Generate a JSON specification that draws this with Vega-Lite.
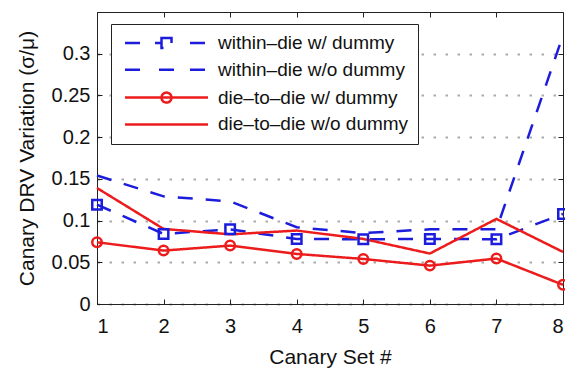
{
  "$schema": "https://vega.github.io/schema/vega-lite/v6.json",
  "width": 466,
  "height": 292,
  "autosize": {"type": "none"},
  "padding": {"left": 97, "top": 12, "right": 2, "bottom": 66},
  "background": "white",
  "data": {
    "values": [
      {"set": 1, "series": "within–die w/ dummy", "value": 0.119},
      {"set": 2, "series": "within–die w/ dummy", "value": 0.084},
      {"set": 3, "series": "within–die w/ dummy", "value": 0.0895},
      {"set": 4, "series": "within–die w/ dummy", "value": 0.078},
      {"set": 5, "series": "within–die w/ dummy", "value": 0.0776},
      {"set": 6, "series": "within–die w/ dummy", "value": 0.078},
      {"set": 7, "series": "within–die w/ dummy", "value": 0.0776},
      {"set": 8, "series": "within–die w/ dummy", "value": 0.108},
      {"set": 1, "series": "within–die w/o dummy", "value": 0.154},
      {"set": 2, "series": "within–die w/o dummy", "value": 0.129},
      {"set": 3, "series": "within–die w/o dummy", "value": 0.123},
      {"set": 4, "series": "within–die w/o dummy", "value": 0.092},
      {"set": 5, "series": "within–die w/o dummy", "value": 0.085},
      {"set": 6, "series": "within–die w/o dummy", "value": 0.0895},
      {"set": 7, "series": "within–die w/o dummy", "value": 0.0895},
      {"set": 8, "series": "within–die w/o dummy", "value": 0.322},
      {"set": 1, "series": "die–to–die w/ dummy", "value": 0.074},
      {"set": 2, "series": "die–to–die w/ dummy", "value": 0.064},
      {"set": 3, "series": "die–to–die w/ dummy", "value": 0.070},
      {"set": 4, "series": "die–to–die w/ dummy", "value": 0.060},
      {"set": 5, "series": "die–to–die w/ dummy", "value": 0.054},
      {"set": 6, "series": "die–to–die w/ dummy", "value": 0.046},
      {"set": 7, "series": "die–to–die w/ dummy", "value": 0.0545},
      {"set": 8, "series": "die–to–die w/ dummy", "value": 0.023},
      {"set": 1, "series": "die–to–die w/o dummy", "value": 0.139},
      {"set": 2, "series": "die–to–die w/o dummy", "value": 0.090},
      {"set": 3, "series": "die–to–die w/o dummy", "value": 0.0835},
      {"set": 4, "series": "die–to–die w/o dummy", "value": 0.088},
      {"set": 5, "series": "die–to–die w/o dummy", "value": 0.078},
      {"set": 6, "series": "die–to–die w/o dummy", "value": 0.0605},
      {"set": 7, "series": "die–to–die w/o dummy", "value": 0.102},
      {"set": 8, "series": "die–to–die w/o dummy", "value": 0.0624}
    ]
  },
  "config": {
    "font": "Liberation Sans",
    "view": {"stroke": "#222", "strokeWidth": 1},
    "axis": {
      "domainColor": "#222",
      "tickColor": "#222",
      "labelColor": "#111",
      "titleColor": "#111",
      "labelFont": "Liberation Sans",
      "titleFont": "Liberation Sans",
      "labelFontSize": 20,
      "titleFontSize": 21,
      "titleFontWeight": "normal"
    }
  },
  "layer": [
    {
      "mark": {"type": "line", "strokeWidth": 2.5, "clip": false},
      "encoding": {
        "x": {
          "field": "set",
          "type": "quantitative",
          "scale": {"domain": [1, 8], "nice": false, "zero": false},
          "axis": {
            "values": [1, 2, 3, 4, 5, 6, 7, 8],
            "format": "d",
            "title": "Canary Set #",
            "grid": false,
            "tickSize": -5,
            "labelPadding": 17,
            "titlePadding": 10
          }
        },
        "y": {
          "field": "value",
          "type": "quantitative",
          "scale": {"domain": [0, 0.35], "nice": false},
          "axis": {
            "values": [0, 0.05, 0.1, 0.15, 0.2, 0.25, 0.3],
            "format": "~g",
            "title": "Canary DRV Variation (σ/μ)",
            "grid": true,
            "gridDash": [2.5, 9.5],
            "gridColor": "#aaaaaa",
            "gridWidth": 2,
            "tickSize": -5,
            "labelPadding": 12,
            "titlePadding": 14
          }
        },
        "color": {
          "field": "series",
          "type": "nominal",
          "scale": {
            "domain": ["within–die w/ dummy", "within–die w/o dummy", "die–to–die w/ dummy", "die–to–die w/o dummy"],
            "range": ["#1c1cdc", "#1c1cdc", "#ec1c1c", "#ec1c1c"]
          },
          "legend": {
            "title": null,
            "orient": "none",
            "legendX": 14,
            "legendY": 12,
            "direction": "vertical",
            "padding": 9.5,
            "rowPadding": 6.8,
            "strokeColor": "#222",
            "fillColor": "white",
            "cornerRadius": 0,
            "labelFont": "Liberation Sans",
            "labelFontSize": 19,
            "labelColor": "#111",
            "labelOffset": 42,
            "symbolOffset": 36.5,
            "symbolSize": 100,
            "symbolStrokeWidth": 2.5,
            "labelLimit": 400,
            "encode": {
              "symbols": {
                "update": {
                  "shape": {"signal": "datum.index === 0 ? 'M-8.3,0H-5.3M-2.3,0H-1M-1,-1H1V1H-1V-1H1M4.7,0H8.3' : datum.index === 1 ? 'M-8.3,0H-5.3M-1.5,0H1.5M4.7,0H8.3' : datum.index === 2 ? 'M-8.3,0H8.3M1,0A1,1,0,1,1,-1,0A1,1,0,1,1,1,0' : 'M-8.3,0H8.3'"},
                  "strokeDash": {"value": [1, 0]},
                  "fill": {"value": "transparent"}
                }
              }
            }
          }
        },
        "strokeDash": {
          "field": "series",
          "type": "nominal",
          "scale": {
            "domain": ["within–die w/ dummy", "within–die w/o dummy", "die–to–die w/ dummy", "die–to–die w/o dummy"],
            "range": [[15, 13], [15, 13], [1, 0], [1, 0]]
          },
          "legend": null
        }
      }
    },
    {
      "transform": [{"filter": "indexof(datum.series, 'w/ dummy') >= 0"}],
      "mark": {"type": "point", "filled": false, "strokeWidth": 2.5, "size": 90, "opacity": 1, "clip": false},
      "encoding": {
        "x": {
          "field": "set",
          "type": "quantitative",
          "axis": {"orient": "top", "values": [1, 2, 3, 4, 5, 6, 7, 8], "labels": false, "title": null, "domain": false, "grid": false, "tickSize": -5}
        },
        "y": {
          "field": "value",
          "type": "quantitative",
          "axis": {"orient": "right", "values": [0, 0.05, 0.1, 0.15, 0.2, 0.25, 0.3], "labels": false, "title": null, "domain": false, "grid": false, "tickSize": -5}
        },
        "color": {"field": "series", "type": "nominal"},
        "shape": {
          "field": "series",
          "type": "nominal",
          "scale": {"domain": ["within–die w/ dummy", "die–to–die w/ dummy"], "range": ["square", "circle"]},
          "legend": null
        }
      }
    }
  ],
  "resolve": {"axis": {"x": "independent", "y": "independent"}}
}
